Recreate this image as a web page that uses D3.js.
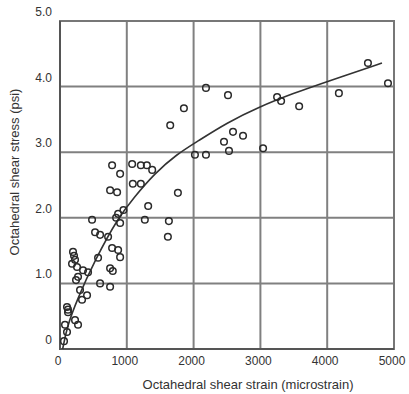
<!DOCTYPE html>
<html>
<head>
<meta charset="utf-8">
<script src="https://cdn.jsdelivr.net/npm/d3@7"></script>
<style>
  body { margin: 0; background: #fff; }
  text { font-family: "Liberation Sans", Arial, sans-serif; fill: #333; }
</style>
</head>
<body>
<div id="chart"></div>
<script>
// measured points (strain in microstrain, stress in psi)
var strain = [2185, 2515, 1855, 3250, 3310, 3580, 4175, 4610, 4910, 2590, 2740, 2455, 2530, 2020, 2185, 3040,
  1650, 1080, 1210, 1300, 1380, 1090, 1210, 1765, 1320, 1270, 1630, 1615,
  780, 900, 750, 855, 480, 870, 840, 900, 525, 600, 720, 780, 870, 900, 570, 750, 790,
  195, 210, 225, 255, 345, 420, 270, 600, 750, 300, 405, 330, 105, 120, 225, 270, 75, 105, 60,
  180, 240, 120, 950];
var stress = [3.98, 3.87, 3.67, 3.84, 3.78, 3.70, 3.90, 4.36, 4.05, 3.31, 3.25, 3.16, 3.02, 2.96, 2.96, 3.06,
  3.41, 2.82, 2.80, 2.80, 2.73, 2.52, 2.52, 2.38, 2.18, 1.97, 1.95, 1.71,
  2.80, 2.67, 2.42, 2.39, 1.97, 2.06, 2.00, 1.92, 1.78, 1.74, 1.71, 1.54, 1.51, 1.40, 1.39, 1.23, 1.19,
  1.48, 1.42, 1.36, 1.25, 1.20, 1.17, 1.10, 1.00, 0.95, 0.90, 0.82, 0.75, 0.64, 0.56, 0.44, 0.37, 0.37, 0.26, 0.12,
  1.30, 1.05, 0.60, 2.12];

// fitted curve
var curveX = [40, 105, 255, 525, 870, 1100, 1420, 1750, 2050, 2500, 2980, 3500, 3980, 4820];
var curveY = [0, 0.34, 0.75, 1.36, 2.0, 2.3, 2.68, 2.97, 3.16, 3.45, 3.69, 3.9, 4.07, 4.36];

var xTicks = [0, 1000, 2000, 3000, 4000, 5000];
var yTicks = [0, 1, 2, 3, 4, 5];
var yTickLabels = ["0", "1.0", "2.0", "3.0", "4.0", "5.0"];

var width = 409, height = 394;
var m = { left: 60, right: 394, top: 21, bottom: 349 };

var svg = d3.select("#chart").append("svg")
  .attr("width", width)
  .attr("height", height);

var x = d3.scaleLinear().domain([0, 5000]).range([m.left, m.right]);
var y = d3.scaleLinear().domain([0, 5]).range([m.bottom, m.top]);

// grid
svg.append("g").selectAll("line")
  .data(xTicks.slice(1, -1))
  .enter().append("line")
  .attr("x1", d => x(d)).attr("x2", d => x(d))
  .attr("y1", m.top).attr("y2", m.bottom)
  .attr("stroke", "#808080").attr("stroke-width", 2);

svg.append("g").selectAll("line")
  .data(yTicks.slice(1, -1))
  .enter().append("line")
  .attr("x1", m.left).attr("x2", m.right)
  .attr("y1", d => y(d)).attr("y2", d => y(d))
  .attr("stroke", "#808080").attr("stroke-width", 2);

// frame
svg.append("rect")
  .attr("x", m.left).attr("y", m.top)
  .attr("width", m.right - m.left).attr("height", m.bottom - m.top)
  .attr("fill", "none").attr("stroke", "#777").attr("stroke-width", 2);
svg.append("path")
  .attr("d", "M" + m.left + "," + m.top + "V" + m.bottom + "H" + m.right)
  .attr("fill", "none").attr("stroke", "#555").attr("stroke-width", 2);

// tick labels
svg.append("g").selectAll("text")
  .data(yTicks)
  .enter().append("text")
  .attr("x", 52)
  .attr("y", d => y(d) - 5)
  .attr("text-anchor", "end")
  .attr("font-size", 12)
  .text((d, i) => yTickLabels[i]);

svg.append("g").selectAll("text")
  .data(xTicks)
  .enter().append("text")
  .attr("x", d => x(d) - 2)
  .attr("y", 365)
  .attr("text-anchor", "middle")
  .attr("font-size", 12)
  .text(d => d);

// axis titles
svg.append("text")
  .attr("x", 248).attr("y", 389)
  .attr("text-anchor", "middle")
  .attr("font-size", 13)
  .text("Octahedral shear strain (microstrain)");

svg.append("text")
  .attr("transform", "translate(19,172) rotate(-90)")
  .attr("text-anchor", "middle")
  .attr("font-size", 13)
  .text("Octahedral shear stress (psi)");

// fitted curve
var line = d3.line()
  .x(d => x(d[0]))
  .y(d => y(d[1]))
  .curve(d3.curveBasis);

svg.append("path")
  .datum(curveX.map((v, i) => [v, curveY[i]]))
  .attr("d", line)
  .attr("fill", "none")
  .attr("stroke", "#333")
  .attr("stroke-width", 1.6);

// points
svg.append("g").selectAll("circle")
  .data(strain.map((v, i) => [v, stress[i]]))
  .enter().append("circle")
  .attr("cx", d => x(d[0]))
  .attr("cy", d => y(d[1]))
  .attr("r", 3.3)
  .attr("fill", "none")
  .attr("stroke", "#2a2a2a")
  .attr("stroke-width", 1.5);
</script>
</body>
</html>
